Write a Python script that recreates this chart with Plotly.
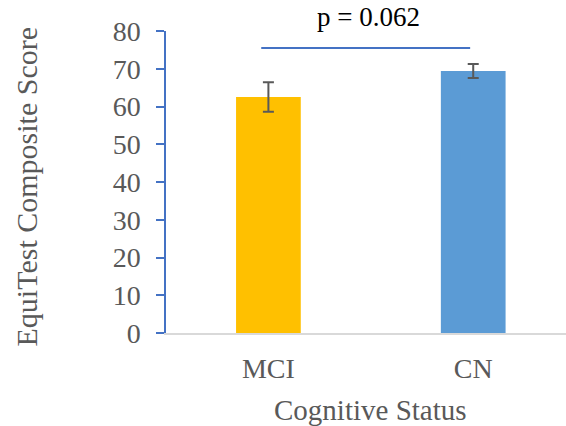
import plotly.graph_objects as go

# Mean EquiTest composite scores by cognitive group, with error bars
groups = ["MCI", "CN"]
means = [62.5, 69.4]
errors = [3.9, 1.85]
bar_colors = ["#FFC000", "#5B9BD5"]
y_ticks = [0, 10, 20, 30, 40, 50, 60, 70, 80]

# Significance bracket between the two groups
p_label = "p = 0.062"
p_line_y = 75.5
p_line_x = [-0.035, 0.985]

FONT = "Times New Roman, Liberation Serif, serif"
GREY = "#595959"

W, H = 566, 426
L, R, T, B = 166, 0, 31, 93
pw, ph = W - L - R, H - T - B

fig = go.Figure()
fig.add_trace(go.Bar(
    x=[0, 1],
    y=means,
    width=0.316,
    marker=dict(color=bar_colors, line=dict(width=0)),
    error_y=dict(type="data", array=errors, visible=True,
                 color=GREY, thickness=2, width=5.5),
    showlegend=False,
))

fig.add_shape(type="line", xref="x", yref="y",
              x0=p_line_x[0], x1=p_line_x[1], y0=p_line_y, y1=p_line_y,
              line=dict(color="#4472C4", width=2))
fig.add_annotation(x=0.487, y=80, xref="x", yref="y", text=p_label,
                   showarrow=False, yshift=14,
                   font=dict(family=FONT, size=27, color="#000000"))

# Axis titles, positioned in pixels relative to the plot area
fig.add_annotation(xref="paper", yref="paper",
                   x=(26 - L) / pw, y=(H - B - 186.5) / ph,
                   xanchor="center", yanchor="middle",
                   text="EquiTest Composite Score", textangle=-90,
                   showarrow=False, font=dict(family=FONT, size=30, color=GREY))
fig.add_annotation(xref="paper", yref="paper",
                   x=(370 - L) / pw, y=(H - B - 410) / ph,
                   xanchor="center", yanchor="middle",
                   text="Cognitive Status", showarrow=False,
                   font=dict(family=FONT, size=29, color=GREY))

fig.update_layout(
    width=W, height=H,
    margin=dict(l=L, r=R, t=T, b=B),
    paper_bgcolor="white", plot_bgcolor="white",
    font=dict(family=FONT, size=28, color=GREY),
    xaxis=dict(range=[-0.5, 1.453], tickvals=[0, 1], ticktext=groups,
               showline=True, linecolor="#D9D9D9", linewidth=1.5,
               ticks="", showgrid=False, zeroline=False,
               ticklabelstandoff=10,
               tickfont=dict(family=FONT, size=28, color=GREY)),
    yaxis=dict(range=[0, 80], tickvals=y_ticks, showline=True,
               linecolor="#4472C4", linewidth=1.5, ticks="outside",
               ticklen=8, tickwidth=1.5, tickcolor="#4472C4",
               showgrid=False, zeroline=False,
               ticklabelstandoff=10,
               tickfont=dict(family=FONT, size=28, color=GREY)),
)

fig.write_html("out.html")
